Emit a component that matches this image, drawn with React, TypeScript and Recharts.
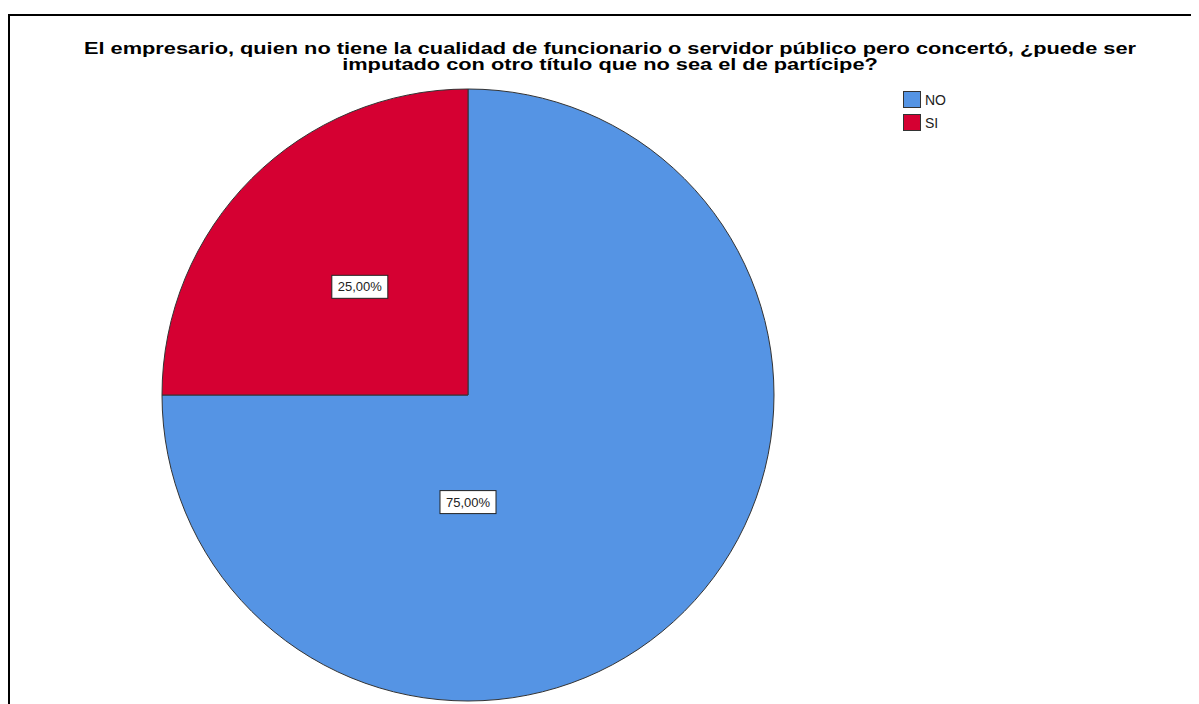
import React from "react";
import { PieChart, Pie, Cell, Legend } from "recharts";

const categories = ["NO", "SI"];
const percentages = [75, 25];
const colors = ["#5594E4", "#D50032"];
const titleLines = [
  "El empresario, quien no tiene la cualidad de funcionario o servidor público pero concertó, ¿puede ser",
  "imputado con otro título que no sea el de partícipe?",
];

const data = categories.map((name, i) => ({ name, value: percentages[i] }));

const RAD = Math.PI / 180;

const renderLabel = (props: any) => {
  const { cx, cy, midAngle, outerRadius, index, value } = props;
  let x: number;
  let y: number;
  if (index === 0) {
    x = cx;
    y = cy + outerRadius * 0.35;
  } else {
    const r = outerRadius * 0.5;
    x = cx + r * Math.cos(-midAngle * RAD);
    y = cy + r * Math.sin(-midAngle * RAD);
  }
  const text = value.toFixed(2).replace(".", ",") + "%";
  const w = 56;
  const h = 23;
  return (
    <g>
      <rect x={x - w / 2} y={y - h / 2} width={w} height={h} fill="#fff" stroke="#222" strokeWidth={1} />
      <text
        x={x}
        y={y}
        textAnchor="middle"
        dominantBaseline="central"
        fontFamily="'Liberation Sans', Arial, sans-serif"
        fontSize={13}
        fill="#222"
      >
        {text}
      </text>
    </g>
  );
};

const renderLegend = () => (
  <div style={{ fontFamily: "'Liberation Sans', Arial, sans-serif", fontSize: 14, color: "#222" }}>
    {data.map((d, i) => (
      <div key={d.name} style={{ display: "flex", alignItems: "center", height: 23 }}>
        <span
          style={{
            display: "inline-block",
            width: 16,
            height: 15,
            background: colors[i],
            border: "1px solid #333",
            marginRight: 4,
          }}
        />
        <span>{d.name}</span>
      </div>
    ))}
  </div>
);

export default function App() {
  return (
    <div style={{ position: "relative", width: 1191, height: 696, overflow: "hidden" }}>
      <div
        style={{
          position: "absolute",
          top: 6,
          left: 0,
          width: 1191,
          height: 690,
          borderTop: "2px solid #000",
          borderLeft: "2px solid #000",
          boxSizing: "border-box",
        }}
      />
      <div
        style={{
          position: "absolute",
          top: 33,
          left: 2,
          width: 1200,
          textAlign: "center",
          fontFamily: "'Liberation Sans', Arial, sans-serif",
          fontWeight: "bold",
          fontSize: 16,
          lineHeight: "16px",
          color: "#000",
          whiteSpace: "nowrap",
          transform: "scaleX(1.36)",
        }}
      >
        {titleLines.map((t) => (
          <div key={t}>{t}</div>
        ))}
      </div>
      <div style={{ position: "absolute", top: 0, left: 0 }}>
        <PieChart width={1191} height={696} margin={{ top: 0, right: 0, bottom: 0, left: 0 }}>
          <Pie
            data={data}
            dataKey="value"
            nameKey="name"
            cx={460}
            cy={387}
            outerRadius={306}
            startAngle={90}
            endAngle={-270}
            stroke="#333"
            strokeWidth={1}
            label={renderLabel}
            labelLine={false}
            isAnimationActive={false}
          >
            {data.map((d, i) => (
              <Cell key={d.name} fill={colors[i]} />
            ))}
          </Pie>
          <Legend
            content={renderLegend}
            layout="vertical"
            verticalAlign="middle"
            align="center"
            wrapperStyle={{ top: 80, left: 895, width: 100 }}
          />
        </PieChart>
      </div>
    </div>
  );
}
